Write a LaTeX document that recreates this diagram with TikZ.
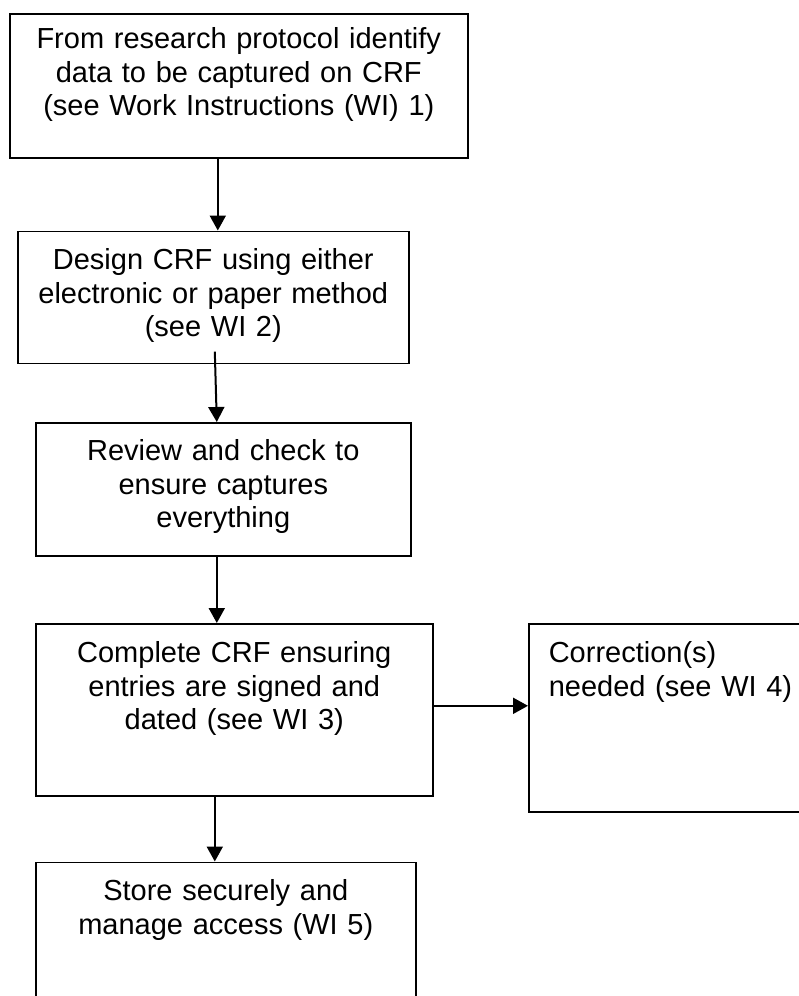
\documentclass[tikz,border=0pt]{standalone}
\usepackage{fontspec}
\setmainfont{Liberation Sans}
\usetikzlibrary{arrows.meta}

\begin{document}
\begin{tikzpicture}[x=1pt, y=-1pt,
    box/.style={draw, line width=1.6pt, anchor=north west, inner sep=0pt, align=center, text height=38pt, font=\fontsize{29}{33.5}\selectfont},
    flow/.style={-{Triangle[length=15pt, width=16pt]}, line width=2pt}]
  \clip (0,0) rectangle (799,996);
  % Process boxes
  \node[box, minimum width=458pt, text width=430pt, text height=35pt, text depth=109pt] (protocol) at (9,13) {From research protocol identify\\data to be captured on CRF\\(see Work Instructions (WI) 1)};
  \node[box, minimum width=391pt, text width=360pt, text height=38.5pt, text depth=93.5pt] (design) at (17,230.5) {Design CRF using either\\electronic or paper method\\(see WI 2)};
  \node[box, minimum width=375pt, text width=340pt, text depth=95pt] (review) at (35,422) {Review and check to\\ensure captures\\everything};
  \node[box, minimum width=397pt, text width=360pt, text height=39pt, text depth=133pt] (complete) at (35,623) {Complete CRF ensuring\\entries are signed and\\dated (see WI 3)};
  \node[box, inner xsep=20pt, text width=262pt, align=left, text height=39pt, text depth=149pt] (correction) at (528,623) {Correction(s)\\needed (see WI 4)};
  \node[box, minimum width=380pt, text width=350pt, text height=38.5pt, text depth=130pt] (store) at (35,861.5) {Store securely and\\manage access (WI 5)};
  % Arrows
  \draw[flow] ([xshift=-21pt]protocol.south) -- ([xshift=4.5pt]design.north);
  \draw[flow] ([xshift=1.5pt, yshift=12.5pt]design.south) -- ([xshift=-6.5pt]review.north);
  \draw[flow] ([xshift=-6.5pt]review.south) -- ([xshift=-17.5pt]complete.north);
  \draw[flow] ([yshift=4pt]complete.east) -- ([yshift=4pt]complete.east -| correction.west);
  \draw[flow] ([xshift=-19.5pt]complete.south) -- ([xshift=-11pt]store.north);
\end{tikzpicture}
\end{document}
